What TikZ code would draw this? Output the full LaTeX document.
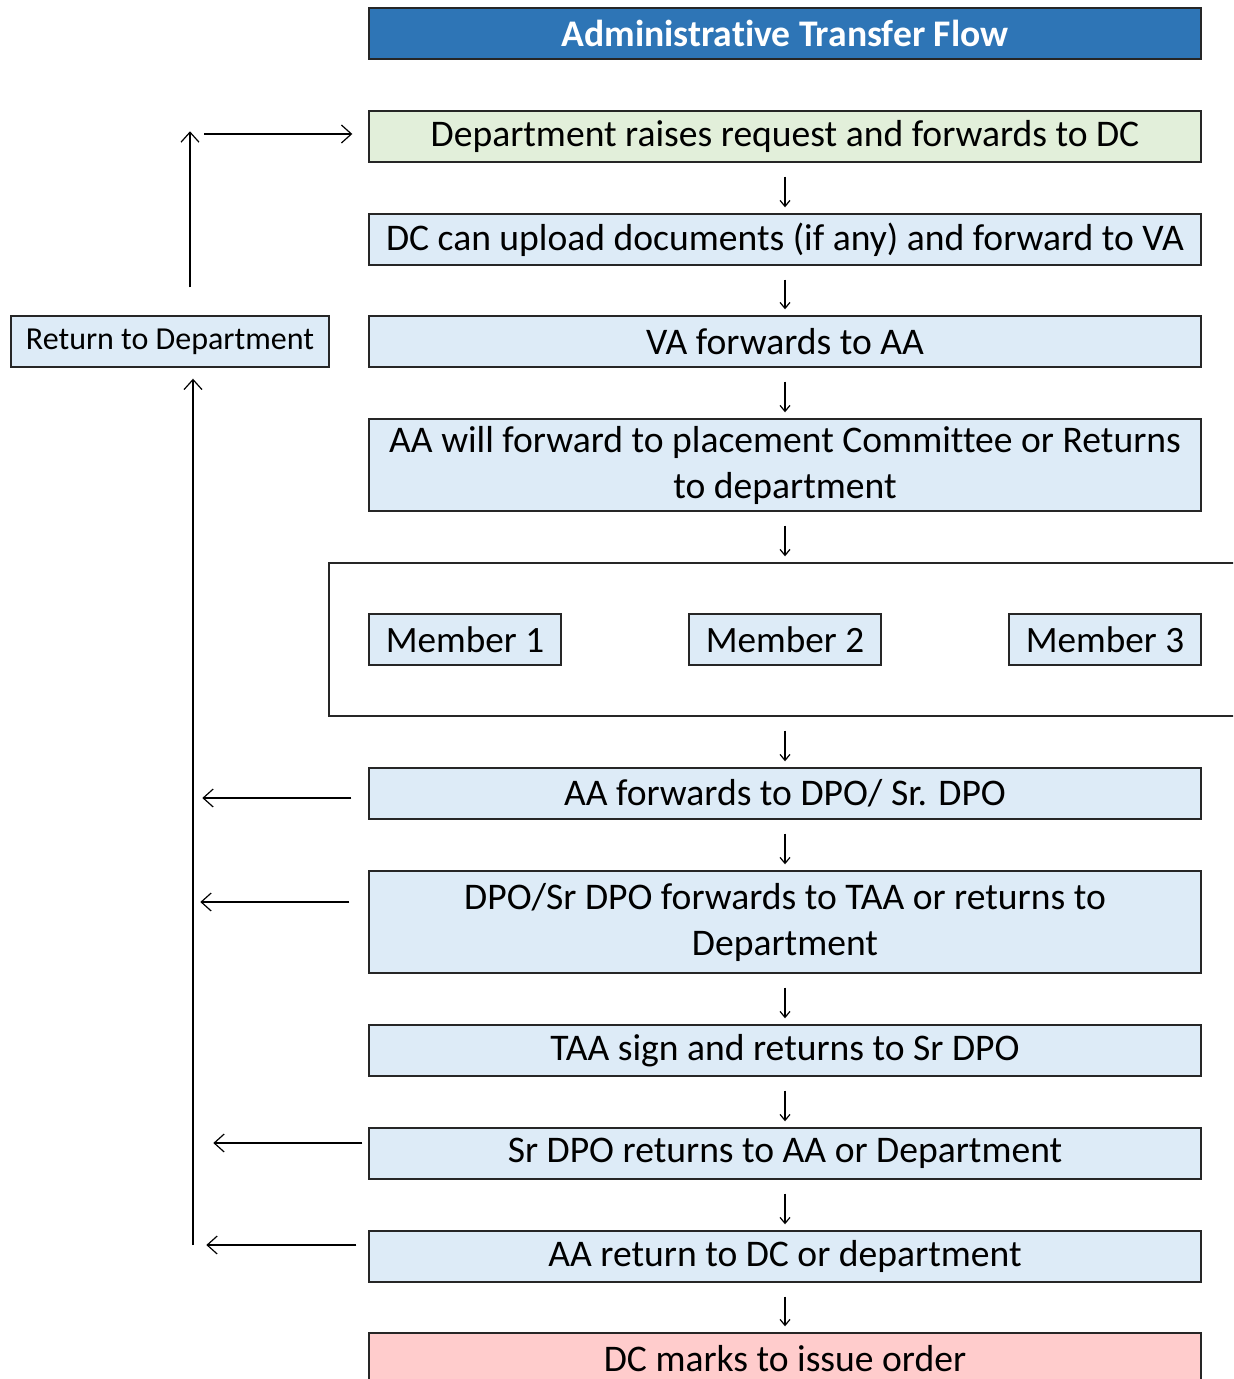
\documentclass[tikz,border=0pt]{standalone}
\usepackage{fontspec}
\setmainfont{Carlito}[Ligatures=NoCommon]
\usetikzlibrary{arrows.meta,positioning,calc}

\definecolor{titleblue}{HTML}{2E75B6}
\definecolor{stepblue}{HTML}{DDEBF7}
\definecolor{startgreen}{HTML}{E2EFDA}
\definecolor{endpink}{HTML}{FFCCCC}

\tikzset{
  stepbox/.style={draw=black!85, line width=0.7pt, fill=stepblue,
    minimum width=416pt, minimum height=25.5pt, inner sep=0pt,
    align=center, font=\fontsize{18.8}{23}\selectfont},
  titlebox/.style={stepbox, fill=titleblue, text=white, font=\bfseries\fontsize{18.8}{22}\selectfont},
  memberbox/.style={stepbox, minimum width=96pt, font=\fontsize{18.6}{22}\selectfont},
  retbox/.style={stepbox, minimum width=159pt, font=\fontsize{16}{19}\selectfont},
  groupbox/.style={draw=black!85, line width=0.7pt, minimum width=456pt, minimum height=76.5pt, inner sep=0pt},
  down/.style={line width=0.6pt, -{Straight Barb[length=3pt,width=5pt]}},
  back/.style={line width=0.6pt, -{Straight Barb[length=5pt,width=9pt]}}
}

\begin{document}
\begin{tikzpicture}[x=0.5pt,y=-0.5pt]
  \useasboundingbox (0,0) rectangle (1233,1379);
  \clip (0,0) rectangle (1233,1379);
  %title
  \node[titlebox] (title) at (785,33.5) {Administrative Transfer Flow};
  %steps
  \node[stepbox, fill=startgreen] (raise) at (785,136.5) {Department raises request and forwards to DC};
  \node[stepbox] (upload) at (785,239.5) {DC can upload documents (if any) and forward to VA};
  \node[stepbox] (vafwd) at (785,341.5) {VA forwards to AA};
  \node[stepbox, minimum height=46pt] (aafwd) at (785,465) {AA will forward to placement Committee or Returns\\to department};
  %committee
  \node[groupbox] (cmte) at (785,639.5) {};
  \node[memberbox] (m1) at (465,639.5) {Member 1};
  \node[memberbox] (m2) at (785,639.5) {Member 2};
  \node[memberbox] (m3) at (1105,639.5) {Member 3};
  %after committee
  \node[stepbox] (dpo) at (785,793.5) {AA forwards to DPO/ Sr. DPO};
  \node[stepbox, minimum height=51pt] (srdpo) at (785,922) {DPO/Sr DPO forwards to TAA or returns to\\Department};
  \node[stepbox] (taa) at (785,1050.5) {TAA sign and returns to Sr DPO};
  \node[stepbox] (srret) at (785,1153.5) {Sr DPO returns to AA or Department};
  \node[stepbox] (aaret) at (785,1256.5) {AA return to DC or department};
  \node[stepbox, fill=endpink] (issue) at (785,1358.5) {DC marks to issue order};
  %return
  \node[retbox] (ret) at (170,341.5) {Return to Department};

  %main flow
  \foreach \a/\b in {raise/upload, upload/vafwd, vafwd/aafwd, aafwd/cmte, cmte/dpo,
                     dpo/srdpo, srdpo/taa, taa/srret, srret/aaret, aaret/issue}
    \draw[down] ([yshift=-7pt]\a.south) -- ([yshift=3pt]\b.north);

  %back to department
  \coordinate (trunk) at (193,1245);
  \draw[back] (trunk) -- ([yshift=-5.5pt]ret.south -| trunk);
  \draw[back] ($(dpo.west)+(-17,4.5)$) -- ++(-149,0);
  \draw[back] ($(srdpo.west)+(-19,-20)$) -- ++(-149,0);
  \draw[back] ($(srret.west)+(-6,-10.5)$) -- ++(-149,0);
  \draw[back] ($(aaret.west)+(-12,-11.5)$) -- ++(-150,0);

  %resubmit
  \coordinate (up) at ($(ret.north)+(20,-28)$);
  \draw[back] (up) -- ++(0,-156);
  \draw[back] ($(raise.west)+(-164,-2.5)$) -- ($(raise.west)+(-16,-2.5)$);
\end{tikzpicture}
\end{document}
